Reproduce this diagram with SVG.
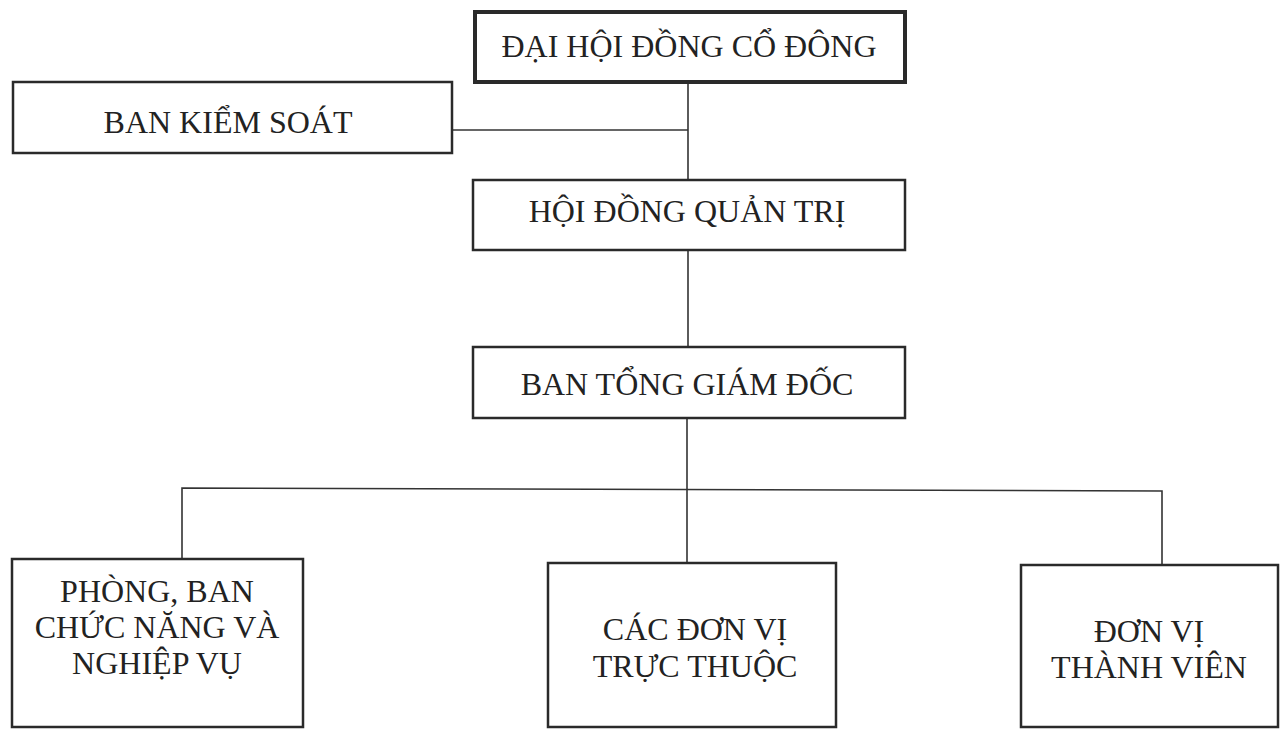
<svg xmlns="http://www.w3.org/2000/svg" width="1287" height="730" viewBox="0 0 1287 730">
<style>
.box{fill:#fff;stroke:#2a2a2a;stroke-width:2.5}
.thick{stroke-width:4}
.lbl{font-family:"Liberation Serif","Times New Roman",serif;font-size:32px;fill:#222;text-anchor:middle}
.con{fill:none;stroke:#333;stroke-width:1.6}
</style>
<rect width="1287" height="730" fill="#fff"/>
<g id="connectors">
<line class="con" x1="688" y1="82" x2="688" y2="180"/>
<line class="con" x1="452" y1="130" x2="688" y2="130"/>
<line class="con" x1="688" y1="250" x2="688" y2="347"/>
<line class="con" x1="687" y1="418" x2="687" y2="563"/>
<polyline class="con" points="182,559 182,488 1162,491 1162,565"/>
</g>
<g id="dhdcd">
<rect class="box thick" x="475" y="12" width="430" height="70"/>
<text class="lbl" x="689" y="57">ĐẠI HỘI ĐỒNG CỔ ĐÔNG</text>
</g>
<g id="bks">
<rect class="box" x="13" y="82" width="439" height="71"/>
<text class="lbl" x="228" y="133">BAN KIỂM SOÁT</text>
</g>
<g id="hdqt">
<rect class="box" x="473" y="180" width="432" height="70"/>
<text class="lbl" x="687" y="222">HỘI ĐỒNG QUẢN TRỊ</text>
</g>
<g id="btgd">
<rect class="box" x="473" y="347" width="432" height="71"/>
<text class="lbl" x="687" y="395">BAN TỔNG GIÁM ĐỐC</text>
</g>
<g id="phongban">
<rect class="box" x="12" y="559" width="291" height="168"/>
<text class="lbl" x="157" y="602">PHÒNG, BAN</text>
<text class="lbl" x="157" y="638">CHỨC NĂNG VÀ</text>
<text class="lbl" x="157" y="674">NGHIỆP VỤ</text>
</g>
<g id="donvitructhuoc">
<rect class="box" x="548" y="563" width="288" height="164"/>
<text class="lbl" x="695" y="640">CÁC ĐƠN VỊ</text>
<text class="lbl" x="695" y="677">TRỰC THUỘC</text>
</g>
<g id="donvithanhvien">
<rect class="box" x="1021" y="565" width="257" height="162"/>
<text class="lbl" x="1149" y="642">ĐƠN VỊ</text>
<text class="lbl" x="1149" y="678">THÀNH VIÊN</text>
</g>
</svg>
